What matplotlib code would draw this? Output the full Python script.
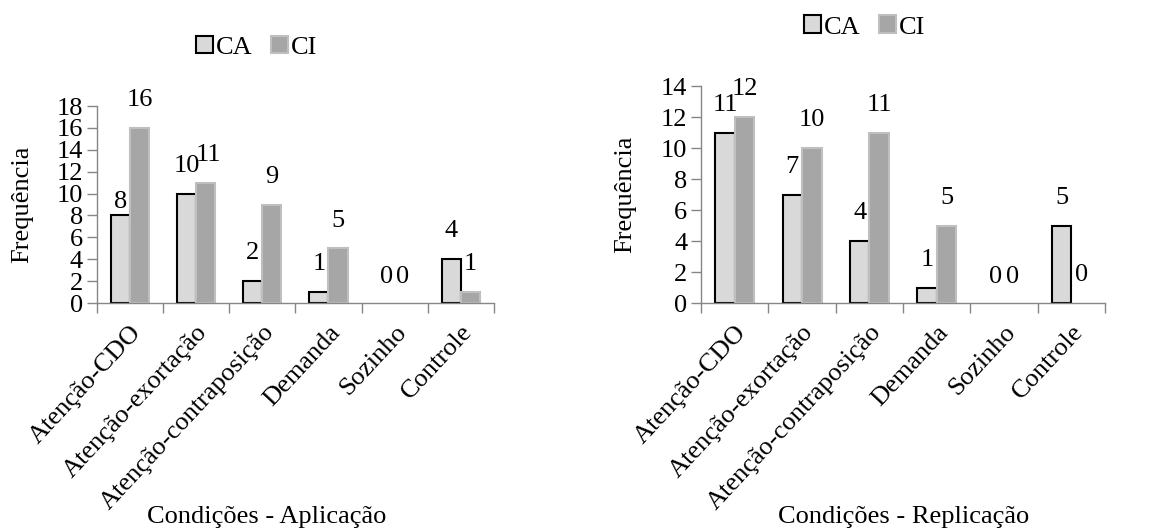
import numpy as np
import matplotlib
matplotlib.use("Agg")
import matplotlib.pyplot as plt

# Data
categorias = ["Atenção-CDO", "Atenção-exortação", "Atenção-contraposição",
              "Demanda", "Sozinho", "Controle"]
aplic_ca = [8, 10, 2, 1, 0, 4]
aplic_ci = [16, 11, 9, 5, 0, 1]
repl_ca = [11, 7, 4, 1, 0, 5]
repl_ci = [12, 10, 11, 5, 0, 0]

plt.rcParams["font.family"] = ["Liberation Serif", "DejaVu Serif"]
plt.rcParams["font.size"] = 19

COR_CA = "#d9d9d9"
COR_CI = "#a6a6a6"
COR_EIXO = "#868686"

fig = plt.figure(figsize=(11.5, 5.29), dpi=100)
ax1 = fig.add_axes([0.0841, 0.4272, 0.3455, 0.3724])
ax2 = fig.add_axes([0.6096, 0.4272, 0.3513, 0.4102])


def desenha(ax, ca, ci, ymax, titulo, tx, ylx, legxy, ajustes):
    x = np.arange(len(categorias))
    w = 0.29
    b1 = ax.bar(x - w / 2, ca, w, color=COR_CA, edgecolor="black", linewidth=1.5, label="CA")
    b2 = ax.bar(x + w / 2, ci, w, color=COR_CI, edgecolor="#bfbfbf", linewidth=1.5, label="CI")
    # zero-height bars are not drawn in the original
    for barras, vals in [(b1, ca), (b2, ci)]:
        for r, v in zip(barras, vals):
            if v == 0:
                r.set_visible(False)

    # value labels above bars
    for i in range(len(categorias)):
        for j, (val, xx) in enumerate([(ca[i], x[i] - w / 2), (ci[i], x[i] + w / 2)]):
            dx, dy = ajustes.get((i, j), (0, 20))
            if val == 0 and ca[i] == ci[i]:
                xx = x[i] + (-0.12 if j == 0 else 0.12)
                dy = 19
            ax.annotate(str(val), (xx, val), xytext=(dx, dy), textcoords="offset points",
                        ha="center", va="center")

    ax.set_xlim(-0.5, len(categorias) - 0.5)
    ax.set_ylim(0, ymax)
    ax.set_yticks(range(0, ymax + 1, 2))
    ax.set_xticks(x)
    ax.set_xticklabels(categorias, rotation=47, ha="right", rotation_mode="anchor")
    ax.set_xticks(np.arange(len(categorias) + 1) - 0.5, minor=True)
    ax.tick_params(axis="x", which="major", length=0, pad=13)
    ax.tick_params(axis="x", which="minor", length=7, color=COR_EIXO, width=1)
    ax.tick_params(axis="y", length=7, color=COR_EIXO, width=1, pad=3)
    for s in ["top", "right"]:
        ax.spines[s].set_visible(False)
    for s in ["left", "bottom"]:
        ax.spines[s].set_color(COR_EIXO)
        ax.spines[s].set_linewidth(1)
    ax.set_ylabel("Frequência")
    ax.yaxis.set_label_coords(ylx, 0.5)

    fig.text(tx, 0.023, titulo, ha="center", va="center")
    fig.legend(handles=[b1, b2], loc="center", bbox_to_anchor=legxy, ncol=2,
               frameon=False, handlelength=0.65, handleheight=0.65,
               handletextpad=0.1, columnspacing=0.7, borderpad=0)


desenha(ax1, aplic_ca, aplic_ci, 18, "Condições - Aplicação", 0.232, -0.16, (0.2232, 0.911),
        {(0, 0): (0, 10), (1, 1): (2, 20)})
desenha(ax2, repl_ca, repl_ci, 14, "Condições - Replicação", 0.786, -0.161, (0.752, 0.949), {})

fig.savefig("out.png", dpi=100)
